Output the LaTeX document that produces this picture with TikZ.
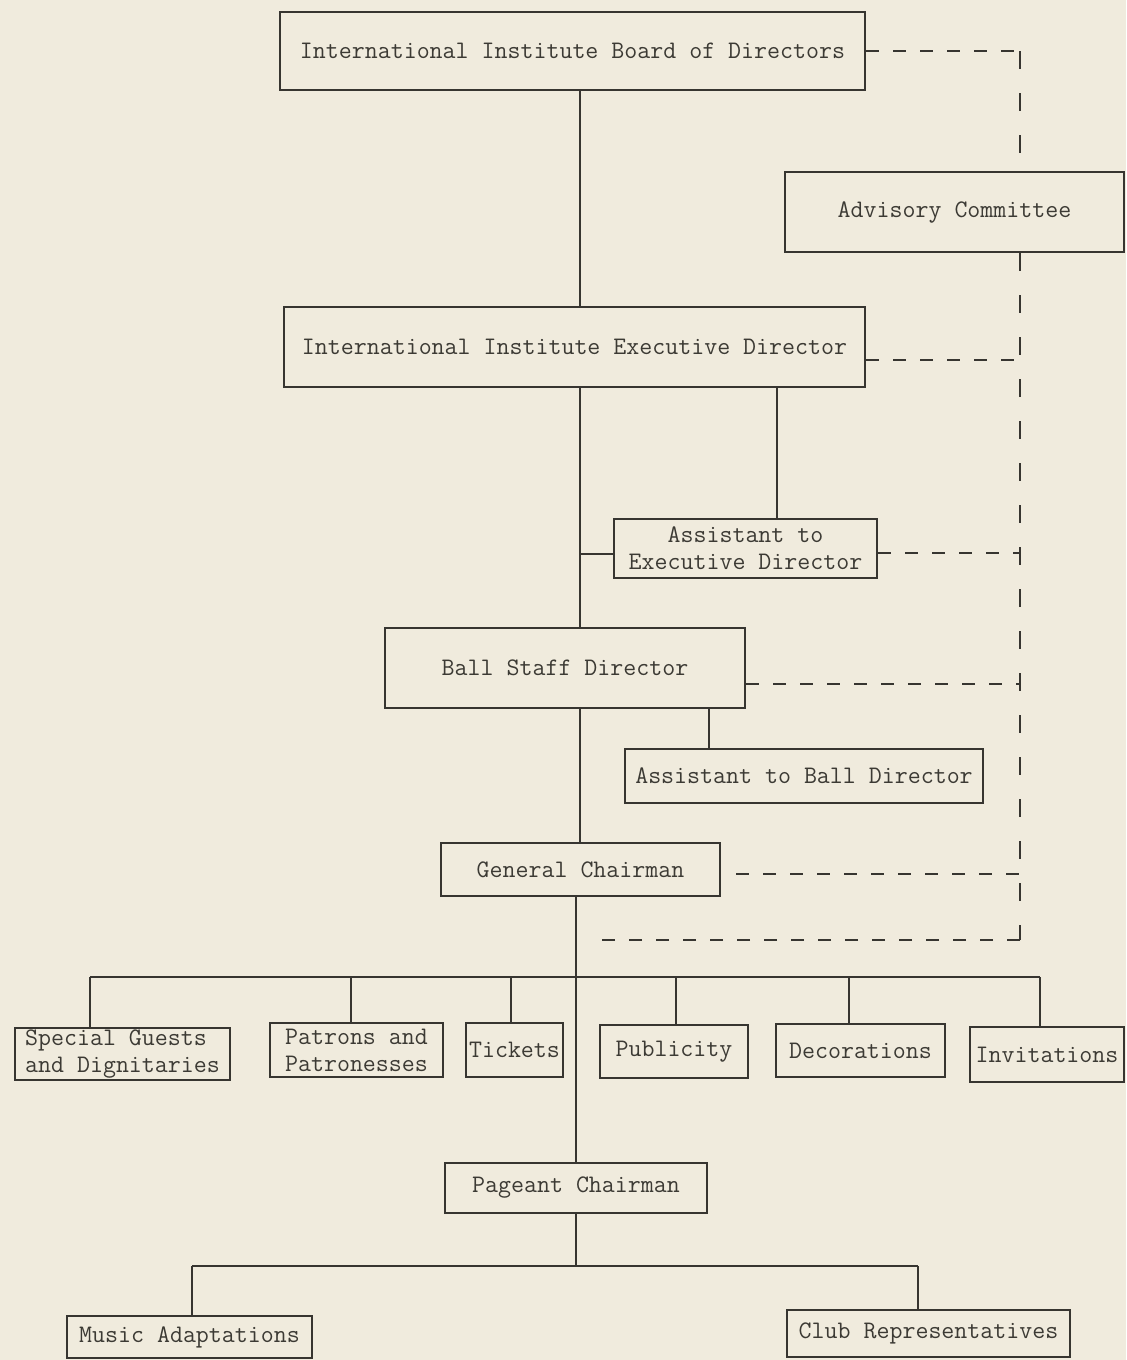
\documentclass[tikz,border=0pt]{standalone}
\usepackage{fontspec}
\usetikzlibrary{calc}
\definecolor{paper}{RGB}{240,235,221}
\definecolor{ink}{RGB}{55,53,48}
\definecolor{txt}{RGB}{60,58,52}
\tikzset{
  box/.style={draw=ink, line width=1pt, inner sep=1pt, align=center, text=txt,
    font=\ttfamily\fontsize{12.6}{13.5}\selectfont},
  conn/.style={draw=ink, line width=1pt},
  dh/.style={draw=ink, line width=1pt, dash pattern=on 6.5pt off 7pt},
  dv/.style={draw=ink, line width=1pt, dash pattern=on 9pt off 12pt},
}
\begin{document}
\begin{tikzpicture}[x=0.5pt,y=-0.5pt]
\fill[paper] (0,0) rectangle (1126,1360);
\useasboundingbox (0,0) rectangle (1126,1360);

% boxes
\node[box, minimum width=292.5pt, minimum height=39pt] (board) at (572.5,51) {International Institute Board of Directors};
\node[box, minimum width=169.5pt, minimum height=40pt] (adv) at (954.5,212) {Advisory Committee};
\node[box, minimum width=290.5pt, minimum height=40pt] (exec) at (574.5,347) {International Institute Executive Director};
\node[box, minimum width=131.5pt, minimum height=29.5pt] (asst1) at (745.5,548.5) {Assistant to\\Executive Director};
\node[box, minimum width=180pt, minimum height=40pt] (ball) at (565,668) {Ball Staff Director};
\node[box, minimum width=179pt, minimum height=27pt] (asst2) at (804,776) {Assistant to Ball Director};
\node[box, minimum width=139.5pt, minimum height=26.5pt] (gen) at (580.5,869.5) {General Chairman};
\node[box, minimum width=107.5pt, minimum height=26pt, align=left] (special) at (122.5,1054) {Special Guests\\and Dignitaries};
\node[box, minimum width=86.5pt, minimum height=27pt] (patrons) at (356.5,1050) {Patrons and\\Patronesses};
\node[box, minimum width=48.5pt, minimum height=27pt] (tickets) at (514.5,1050) {Tickets};
\node[box, minimum width=74pt, minimum height=26.5pt] (publicity) at (674,1051.5) {Publicity};
\node[box, minimum width=84.5pt, minimum height=26.5pt] (decor) at (860.5,1050.5) {Decorations};
\node[box, minimum width=77pt, minimum height=27.5pt] (invit) at (1047,1054.5) {Invitations};
\node[box, minimum width=131pt, minimum height=25pt] (pageant) at (576,1188) {Pageant Chairman};
\node[box, minimum width=122.5pt, minimum height=21pt] (music) at (189.5,1337) {Music Adaptations};
\node[box, minimum width=141.5pt, minimum height=23.5pt] (club) at (928.5,1333.5) {Club Representatives};

% helper coordinates
\coordinate (spine) at (580,0);
\coordinate (spineB) at (576,0);
\coordinate (rail) at (1020,0);
\coordinate (barL) at (90,977);
\coordinate (barR) at (1040,977);
\coordinate (dPat) at (351,977);
\coordinate (dTic) at (511,977);
\coordinate (dPub) at (676,977);
\coordinate (dDec) at (849,977);
\coordinate (bar2L) at (192,1266);
\coordinate (bar2R) at (918,1266);
\coordinate (bar2M) at (576,1266);
\coordinate (dashEnd) at (590,940);
\coordinate (execA) at (777,0);
\coordinate (ballA) at (709,0);

% solid connectors
\draw[conn] (board.south -| spine) -- (exec.north -| spine);
\draw[conn] (exec.south -| spine) -- (ball.north -| spine);
\draw[conn] (exec.south -| execA) -- (asst1.north -| execA);
\draw[conn] ($(asst1.west)+(0,5)$) -- ($(asst1.west -| spine)+(0,5)$);
\draw[conn] (ball.south -| spine) -- (gen.north -| spine);
\draw[conn] (ball.south -| ballA) -- (asst2.north -| ballA);
\draw[conn] (gen.south -| spineB) -- (pageant.north -| spineB);
\draw[conn] (barL) -- (barR);
\draw[conn] (barL) -- (barL |- special.north);
\draw[conn] (dPat) -- (dPat |- patrons.north);
\draw[conn] (dTic) -- (dTic |- tickets.north);
\draw[conn] (dPub) -- (dPub |- publicity.north);
\draw[conn] (dDec) -- (dDec |- decor.north);
\draw[conn] (barR) -- (barR |- invit.north);
\draw[conn] (pageant.south -| spineB) -- (bar2M);
\draw[conn] (bar2L) -- (bar2R);
\draw[conn] (bar2L) -- (bar2L |- music.north);
\draw[conn] (bar2R) -- (bar2R |- club.north);

% dashed advisory connectors
\draw[dh] (board.east) -- (board.east -| rail);
\draw[dv] (board.east -| rail) -- (adv.north -| rail);
\draw[dv] (adv.south -| rail) -- (rail |- dashEnd);
\draw[dh] (rail |- dashEnd) -- (dashEnd);
\draw[dh] ($(exec.east)+(0,13)$) -- ($(exec.east -| rail)+(0,13)$);
\draw[dh] ($(asst1.east)+(0,4)$) -- ($(asst1.east -| rail)+(0,4)$);
\draw[dh] ($(ball.east)+(0,16)$) -- ($(ball.east -| rail)+(0,16)$);
\draw[dh] ($(gen.east)+(15,4)$) -- ($(gen.east -| rail)+(0,4)$);
\end{tikzpicture}
\end{document}
